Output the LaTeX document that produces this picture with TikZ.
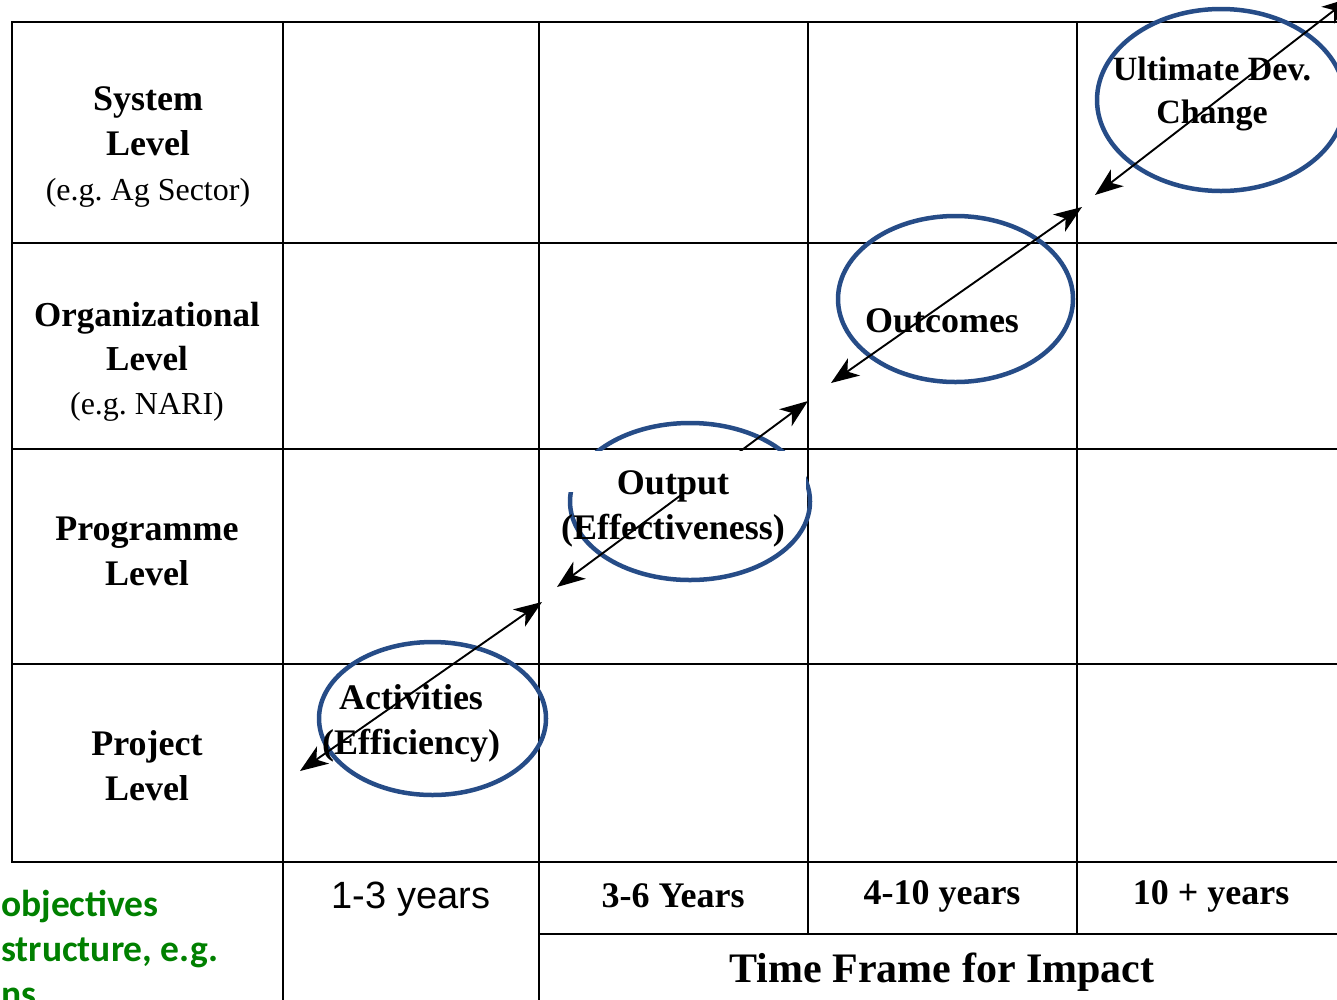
\documentclass[tikz,border=0pt]{standalone}
\usepackage{fontspec}
\setmainfont{Liberation Serif}
\newfontfamily\sansf{Liberation Sans}
\newfontfamily\calib{Carlito}
\usetikzlibrary{arrows.meta,shapes.geometric}
\definecolor{ellblue}{RGB}{38,76,135}
\definecolor{objgreen}{RGB}{0,128,0}
\frenchspacing
\begin{document}
\begin{tikzpicture}[x=1pt,y=-1pt,
  gridline/.style={line width=2.2pt, line cap=rect},
  ell/.style={draw=ellblue, line width=4.5pt, ellipse, inner sep=0pt},
  dbl/.style={line width=1.9pt, {Stealth[length=28pt,width=21pt,inset=8pt]}-{Stealth[length=28pt,width=21pt,inset=8pt]}},
  lbl/.style={align=center, inner sep=0pt, font=\fontsize{36}{45}\selectfont\bfseries},
  yr/.style={inner sep=0pt, font=\fontsize{36}{43}\selectfont\bfseries},
  green/.style={align=left, inner sep=0pt, text=objgreen, font=\calib\bfseries\fontsize{37.5}{45}\selectfont}]
\useasboundingbox (0,0) rectangle (1337,999);
\clip (0,0) rectangle (1337,999);
% grid
\draw[gridline] (12,22) -- (1345,22);
\draw[gridline] (12,243) -- (1345,243);
\draw[line width=1.6pt] (12,449) -- (1345,449);
\draw[gridline] (12,664) -- (1345,664);
\draw[gridline] (12,862) -- (1345,862);
\draw[gridline] (539,934) -- (1345,934);
\draw[gridline] (12,22) -- (12,862);
\draw[gridline] (283,22) -- (283,1005);
\draw[gridline] (539,22) -- (539,1005);
\draw[gridline] (808,22) -- (808,934);
\draw[gridline] (1077,22) -- (1077,934);
% ellipses
\node[ell, minimum width=248pt, minimum height=182pt] (eUlt) at (1221,100) {};
\node[ell, minimum width=235pt, minimum height=166pt] (eOut) at (955.5,299) {};
\node[ell, minimum width=240pt, minimum height=157pt] (eOpt) at (690,501.5) {};
\node[ell, minimum width=227pt, minimum height=153pt] (eAct) at (432.5,718.5) {};
% arrow end points
\coordinate (a1s) at (300,771);
\coordinate (a1e) at (542,602);
\coordinate (a2s) at (557,587);
\coordinate (a2e) at (808,401);
\coordinate (a3s) at (831,383);
\coordinate (a3e) at (1082,207);
\coordinate (a4s) at (1095,195);
\coordinate (a4e) at (1350,-2);
\draw[dbl] (a1s) -- (a1e);
\draw[dbl] (a2s) -- (a2e);
\draw[dbl] (a3s) -- (a3e);
\draw[dbl] (a4s) -- (a4e);
% white patch behind the "Output" line
\fill[white] (565,451) rectangle (806,492);
% row labels
\node[lbl] (sys) at (148,147) {System\\Level\\{\fontsize{32}{40}\selectfont\mdseries (e.g. Ag Sector)}};
\node[lbl, font=\fontsize{35}{44}\selectfont\bfseries] (org) at (147,362) {Organizational\\Level\\{\fontsize{32}{40}\selectfont\mdseries (e.g. NARI)}};
\node[lbl] (prg) at (147,551) {Programme\\Level};
\node[lbl] (prj) at (147,766) {Project\\Level};
% ellipse texts
\node[lbl, font=\fontsize{34}{43}\selectfont\bfseries] (tUlt) at (1212,94) {Ultimate Dev.\\Change};
\node[lbl] (tOut) at (942,321) {Outcomes};
\node[lbl] (tOpt) at (673,509) {Output\\(Effectiveness)};
\node[lbl] (tAct) at (411,723) {Activities\\(Efficiency)};
% time frame row
\node[inner sep=0pt, font=\sansf\fontsize{38}{44}\selectfont] (y1) at (411,899) {1-3 years};
\node[yr] (y2) at (673,896) {3-6 Years};
\node[yr] (y3) at (942,896) {4-10 years};
\node[yr] (y4) at (1211,896) {10 + years};
\node[inner sep=0pt, font=\fontsize{42}{48}\selectfont\bfseries] (tf) at (942,972) {Time Frame for Impact};
% green text
\node[green, anchor=north west] (gtxt) at (1,890) {objectives\\structure, e.g.\\ns};
\end{tikzpicture}
\end{document}
